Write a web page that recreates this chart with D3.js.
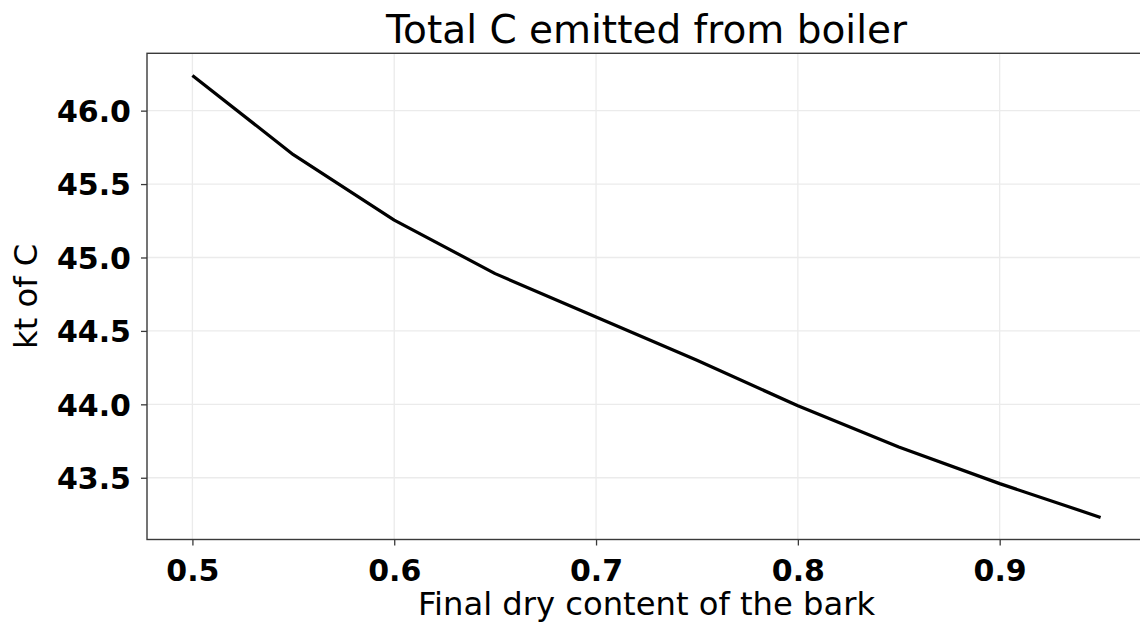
<!DOCTYPE html>
<html>
<head>
<meta charset="utf-8">
<script src="https://cdn.jsdelivr.net/npm/d3@7"></script>
<style>
  html, body { margin: 0; padding: 0; background: #fff; }
  svg { display: block; }
</style>
</head>
<body>
<svg id="chart" width="1140" height="628"></svg>
<script>
// Final dry content of the bark (fraction) and total carbon emitted (kt of C)
const dryContent = [0.50, 0.55, 0.60, 0.65, 0.70, 0.75, 0.80, 0.85, 0.90, 0.95];
const carbonEmitted = [46.24, 45.70, 45.255, 44.89, 44.595, 44.30, 43.99, 43.71, 43.46, 43.23];
const xTickValues = [0.5, 0.6, 0.7, 0.8, 0.9];
const yTickValues = [43.5, 44.0, 44.5, 45.0, 45.5, 46.0];

const svg = d3.select("#chart");
const plot = { left: 147, right: 1146, top: 53.3, bottom: 539.5 };

// 5% padding on each side of the data extent
function padded(values) {
  const [lo, hi] = d3.extent(values);
  const m = (hi - lo) * 0.05;
  return [lo - m, hi + m];
}

const x = d3.scaleLinear().domain(padded(dryContent)).range([plot.left, plot.right]);
const y = d3.scaleLinear().domain(padded(carbonEmitted)).range([plot.bottom, plot.top]);

const font = "'DejaVu Sans', sans-serif";
const gridColor = "#ebebeb";
const spineColor = "#3a3a3a";

// Grid
const grid = svg.append("g");
grid.selectAll(".vg").data(xTickValues).join("line")
  .attr("x1", d => x(d)).attr("x2", d => x(d))
  .attr("y1", plot.top).attr("y2", plot.bottom)
  .attr("stroke", gridColor).attr("stroke-width", 1.3);
grid.selectAll(".hg").data(yTickValues).join("line")
  .attr("x1", plot.left).attr("x2", plot.right)
  .attr("y1", d => y(d)).attr("y2", d => y(d))
  .attr("stroke", gridColor).attr("stroke-width", 1.3);

// Axes
const xAxis = svg.append("g")
  .attr("transform", `translate(0,${plot.bottom})`)
  .call(d3.axisBottom(x).tickValues(xTickValues).tickFormat(d3.format(".1f"))
    .tickSizeInner(6).tickSizeOuter(0).tickPadding(8));
const yAxis = svg.append("g")
  .attr("transform", `translate(${plot.left},0)`)
  .call(d3.axisLeft(y).tickValues(yTickValues).tickFormat(d3.format(".1f"))
    .tickSizeInner(6).tickSizeOuter(0).tickPadding(10));

[xAxis, yAxis].forEach(g => {
  g.select(".domain").remove();
  g.selectAll(".tick line").attr("stroke", spineColor).attr("stroke-width", 1.3);
  g.selectAll(".tick text")
    .attr("fill", "#000")
    .style("font-family", font)
    .style("font-size", "30px")
    .style("font-weight", "bold");
});
xAxis.selectAll(".tick text").attr("dy", "0.9em");
yAxis.selectAll(".tick text").attr("dy", "0.36em");

// Frame
svg.append("rect")
  .attr("x", plot.left).attr("y", plot.top)
  .attr("width", plot.right - plot.left).attr("height", plot.bottom - plot.top)
  .attr("fill", "none").attr("stroke", spineColor).attr("stroke-width", 1.4);

// Data line
const line = d3.line().x((d, i) => x(dryContent[i])).y(d => y(d));
svg.append("path")
  .datum(carbonEmitted)
  .attr("d", line)
  .attr("fill", "none")
  .attr("stroke", "#000")
  .attr("stroke-width", 3.2)
  .attr("stroke-linejoin", "round")
  .attr("stroke-linecap", "butt");

// Title and axis labels
svg.append("text")
  .attr("x", (plot.left + plot.right) / 2).attr("y", 43)
  .attr("text-anchor", "middle")
  .style("font-family", font).style("font-size", "39px")
  .text("Total C emitted from boiler");

svg.append("text")
  .attr("x", (plot.left + plot.right) / 2).attr("y", 615)
  .attr("text-anchor", "middle")
  .style("font-family", font).style("font-size", "32.2px")
  .text("Final dry content of the bark");

svg.append("text")
  .attr("transform", `translate(37,${(plot.top + plot.bottom) / 2}) rotate(-90)`)
  .attr("text-anchor", "middle")
  .style("font-family", font).style("font-size", "32.2px")
  .text("kt of C");
</script>
</body>
</html>
